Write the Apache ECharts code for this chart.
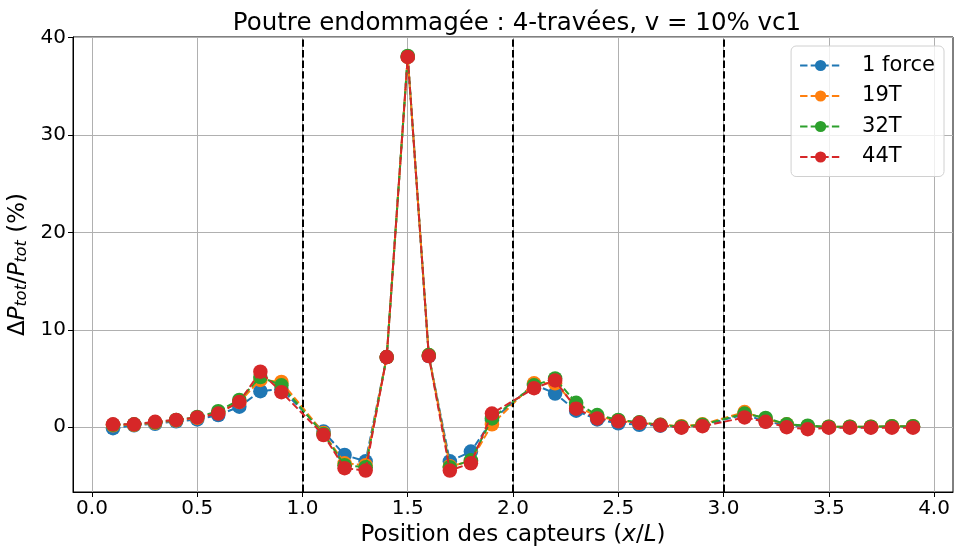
<!DOCTYPE html>
<html><head><meta charset="utf-8">
<script src="https://cdn.jsdelivr.net/npm/echarts@6/dist/echarts.min.js"></script>
<style>html,body{margin:0;padding:0;background:#fff}#c{width:955px;height:547px}</style>
</head><body><div id="c"></div>
<script>
const positions = [0.1,0.2,0.3,0.4,0.5,0.6,0.7,0.8,0.9,1.1,1.2,1.3,1.4,1.5,1.6,1.7,1.8,1.9,2.1,2.2,2.3,2.4,2.5,2.6,2.7,2.8,2.9,3.1,3.2,3.3,3.4,3.5,3.6,3.7,3.8,3.9];
const force1 = [-0.1,0.2,0.35,0.6,0.8,1.25,2.1,3.7,3.9, -0.45,-2.85,-3.5,7.2,38.0,7.3,-3.5,-2.5,0.7, 4.4,3.45,1.7,0.8,0.4,0.25,0.15,0.0,0.2, 1.3,0.6,0.2,0.05,0.0,0.0,0.0,0.05,0.05];
const t19 = [0.2,0.25,0.45,0.7,0.95,1.5,2.6,4.85,4.65, -0.6,-3.7,-3.9,7.2,38.0,7.4,-4.0,-3.5,0.3, 4.5,4.5,2.2,1.1,0.7,0.45,0.25,0.1,0.3, 1.55,0.85,0.3,0.1,0.05,0.05,0.05,0.1,0.1];
const t32 = [0.25,0.3,0.5,0.75,1.05,1.65,2.8,5.15,4.3, -0.7,-3.9,-4.1,7.2,38.1,7.4,-4.1,-3.4,0.9, 4.3,5.0,2.5,1.25,0.75,0.5,0.25,0.05,0.25, 1.4,0.95,0.3,0.15,0.05,0.05,0.05,0.1,0.1];
const t44 = [0.3,0.3,0.55,0.75,1.0,1.4,2.6,5.7,3.6, -0.8,-4.2,-4.45,7.2,38.0,7.3,-4.45,-3.7,1.4, 4.0,4.8,1.9,0.9,0.6,0.45,0.2,-0.05,0.1, 1.0,0.55,0.0,-0.2,-0.05,-0.05,-0.05,-0.05,-0.05];
const seriesNames = ['1 force','19T','32T','44T'];
const seriesColors = ['#1f77b4','#ff7f0e','#2ca02c','#d62728'];
const xTicks = [0.0,0.5,1.0,1.5,2.0,2.5,3.0,3.5,4.0];
const yTicks = [0,10,20,30,40];
const supports = [1.0,2.0,3.0];

const F = 'DejaVu Sans';
const chart = echarts.init(document.getElementById('c'));
const allData = [force1,t19,t32,t44];
const series = allData.map((d,i)=>({
  name: seriesNames[i], type:'line', data: positions.map((x,j)=>[x,d[j]]),
  symbol:'circle', symbolSize:14.5, z: 3+i,
  lineStyle:{color:seriesColors[i], width:2, type:[7.4,3.2]},
  itemStyle:{color:seriesColors[i]},
  emphasis:{disabled:true}, animation:false
}));
series[3].markLine = {
  silent:true, symbol:'none', label:{show:false},
  lineStyle:{color:'#000', width:2, type:[7.4,3.2]},
  data: supports.map(v=>({xAxis:v}))
};
chart.setOption({
  animation:false,
  title:{text:'Poutre endommagée : 4-travées, v = 10% vc1', left:512, top:6, textAlign:'center',
    textStyle:{fontFamily:F, fontSize:24.5, fontWeight:'normal', color:'#000'}},
  legend:{top:46, right:11, orient:'vertical', itemGap:9.5, itemWidth:41, itemHeight:14,
    padding:[9,9,9,8], borderColor:'#d0d0d0', borderWidth:1, borderRadius:5, backgroundColor:'rgba(255,255,255,0.8)',
    textStyle:{fontFamily:F, fontSize:21, lineHeight:20, color:'#000', padding:[0,0,0,16]}, data:seriesNames},
  grid:{left:73, right:2, top:37, bottom:55, containLabel:false, outerBoundsMode:'none',
    show:true, borderColor:'#000', borderWidth:1, backgroundColor:'transparent'},
  xAxis:{type:'value', min:-0.09, max:4.09,
    name:'Position des capteurs ({i|x}/{i|L})', nameLocation:'middle', nameGap:31,
    nameTextStyle:{fontFamily:F, fontSize:23, color:'#000', rich:{i:{fontFamily:F, fontSize:23, fontStyle:'italic', color:'#000'}}},
    axisLine:{onZero:false, lineStyle:{color:'#000', width:1}},
    axisTick:{customValues:xTicks, length:5, lineStyle:{color:'#000'}},
    axisLabel:{customValues:xTicks, formatter:v=>v.toFixed(1), fontFamily:F, fontSize:20, color:'#000', margin:7},
    splitLine:{show:true, lineStyle:{color:'#b0b0b0', width:1}}},
  yAxis:{type:'value', min:-6.65, max:40.05,
    name:'{n|Δ}{i|P}{s|tot}{n|/}{i|P}{s|tot}{n| (%)}', nameLocation:'middle', nameGap:38, nameRotate:90,
    nameTextStyle:{fontFamily:F, fontSize:23, color:'#000', rich:{
      n:{fontFamily:F, fontSize:23, color:'#000'},
      i:{fontFamily:F, fontSize:23, fontStyle:'italic', color:'#000'},
      s:{fontFamily:F, fontSize:16, fontStyle:'italic', color:'#000', verticalAlign:'bottom', padding:[8,0,0,0]}}},
    axisLine:{show:true, onZero:false, lineStyle:{color:'#000', width:1}},
    axisTick:{show:true, customValues:yTicks, length:5, lineStyle:{color:'#000'}},
    axisLabel:{customValues:yTicks, fontFamily:F, fontSize:20, color:'#000', margin:7},
    splitLine:{show:true, lineStyle:{color:'#b0b0b0', width:1}}},
  series: series
});
</script></body></html>
